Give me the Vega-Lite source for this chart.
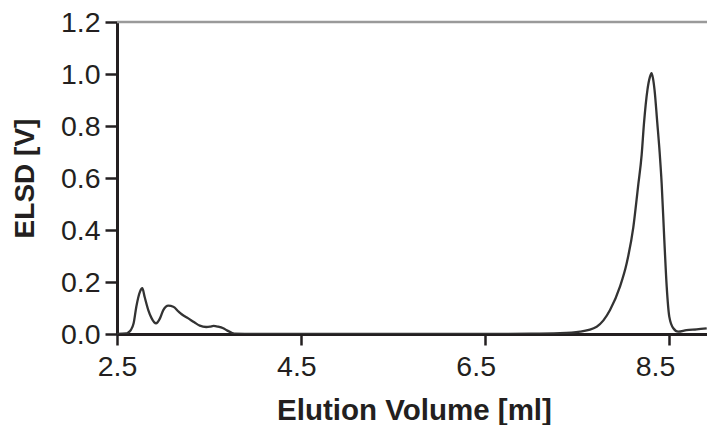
{
  "$schema": "https://vega.github.io/schema/vega-lite/v6.json",
  "width": 590,
  "height": 312,
  "autosize": "none",
  "padding": {"left": 117, "top": 22, "right": 0, "bottom": 91},
  "background": "white",
  "config": {"view": {"stroke": null}},
  "layer": [
    {
      "data": {"values": [{"top": 1.2}]},
      "mark": {"type": "rule", "color": "#9a9a9a", "strokeWidth": 2.5},
      "encoding": {"y": {"field": "top", "type": "quantitative"}}
    },
    {
      "data": {"values": [
        {"v": 2.5, "elsd": 0}, {"v": 2.6, "elsd": 0.002}, {"v": 2.62, "elsd": 0.005}, {"v": 2.65, "elsd": 0.015},
        {"v": 2.68, "elsd": 0.04}, {"v": 2.71, "elsd": 0.105}, {"v": 2.75, "elsd": 0.163}, {"v": 2.775, "elsd": 0.176},
        {"v": 2.8, "elsd": 0.143}, {"v": 2.84, "elsd": 0.092}, {"v": 2.877, "elsd": 0.06}, {"v": 2.924, "elsd": 0.041},
        {"v": 2.967, "elsd": 0.06}, {"v": 3.003, "elsd": 0.092}, {"v": 3.058, "elsd": 0.109}, {"v": 3.112, "elsd": 0.105},
        {"v": 3.17, "elsd": 0.086}, {"v": 3.203, "elsd": 0.076}, {"v": 3.275, "elsd": 0.06}, {"v": 3.34, "elsd": 0.045},
        {"v": 3.4, "elsd": 0.032}, {"v": 3.47, "elsd": 0.027}, {"v": 3.51, "elsd": 0.028}, {"v": 3.55, "elsd": 0.031},
        {"v": 3.6, "elsd": 0.028}, {"v": 3.655, "elsd": 0.022}, {"v": 3.7, "elsd": 0.013}, {"v": 3.747, "elsd": 0.005},
        {"v": 3.78, "elsd": 0.001}, {"v": 4.0, "elsd": 0}, {"v": 5.0, "elsd": 0}, {"v": 6.0, "elsd": 0},
        {"v": 7.0, "elsd": 0.001}, {"v": 7.315, "elsd": 0.003}, {"v": 7.533, "elsd": 0.009}, {"v": 7.714, "elsd": 0.028},
        {"v": 7.859, "elsd": 0.092}, {"v": 7.967, "elsd": 0.182}, {"v": 8.04, "elsd": 0.272}, {"v": 8.112, "elsd": 0.41},
        {"v": 8.163, "elsd": 0.565}, {"v": 8.203, "elsd": 0.69}, {"v": 8.228, "elsd": 0.81}, {"v": 8.266, "elsd": 0.94},
        {"v": 8.292, "elsd": 0.988}, {"v": 8.31, "elsd": 1.003}, {"v": 8.325, "elsd": 0.985}, {"v": 8.343, "elsd": 0.938},
        {"v": 8.372, "elsd": 0.815}, {"v": 8.398, "elsd": 0.7}, {"v": 8.42, "elsd": 0.58}, {"v": 8.449, "elsd": 0.362},
        {"v": 8.475, "elsd": 0.182}, {"v": 8.503, "elsd": 0.067}, {"v": 8.547, "elsd": 0.022}, {"v": 8.6, "elsd": 0.009},
        {"v": 8.69, "elsd": 0.015}, {"v": 8.8, "elsd": 0.018}, {"v": 8.91, "elsd": 0.022}
      ]},
      "mark": {"type": "line", "color": "#333333", "strokeWidth": 2.3, "interpolate": "monotone", "clip": true},
      "encoding": {
        "x": {
          "field": "v", "type": "quantitative",
          "scale": {"domain": [2.5, 8.913], "nice": false, "zero": false},
          "axis": {
            "values": [2.5, 4.5, 6.5, 8.5], "format": ".1f", "grid": false,
            "domainColor": "#231f20", "domainWidth": 3,
            "tickColor": "#231f20", "tickWidth": 2.5, "tickSize": 11,
            "labelFont": "Liberation Sans", "labelFontSize": 28.5, "labelColor": "#231f20",
            "labelPadding": 7, "labelOffset": {"expr": "-(datum.value - 2.5) * 2.33"},
            "labelFlush": false, "labelOverlap": false,
            "title": "Elution Volume [ml]",
            "titleFont": "Liberation Sans", "titleFontSize": 29.5, "titleFontWeight": "bold", "titleColor": "#231f20",
            "titleX": 297, "titleY": 85, "titleAlign": "center", "titleBaseline": "alphabetic"
          }
        },
        "y": {
          "field": "elsd", "type": "quantitative",
          "scale": {"domain": [0, 1.2], "nice": false},
          "axis": {
            "values": [0, 0.2, 0.4, 0.6, 0.8, 1.0, 1.2], "format": ".1f", "grid": false,
            "domainColor": "#231f20", "domainWidth": 3,
            "tickColor": "#231f20", "tickWidth": 2.5, "tickSize": 12,
            "labelFont": "Liberation Sans", "labelFontSize": 28.5, "labelColor": "#231f20",
            "labelPadding": 5, "labelFlush": false, "labelOverlap": false,
            "title": "ELSD [V]",
            "titleFont": "Liberation Sans", "titleFontSize": 28, "titleFontWeight": "bold", "titleColor": "#231f20",
            "titleX": -92, "titleY": 156, "titleAngle": -90, "titleAlign": "center", "titleBaseline": "middle"
          }
        }
      }
    }
  ]
}
